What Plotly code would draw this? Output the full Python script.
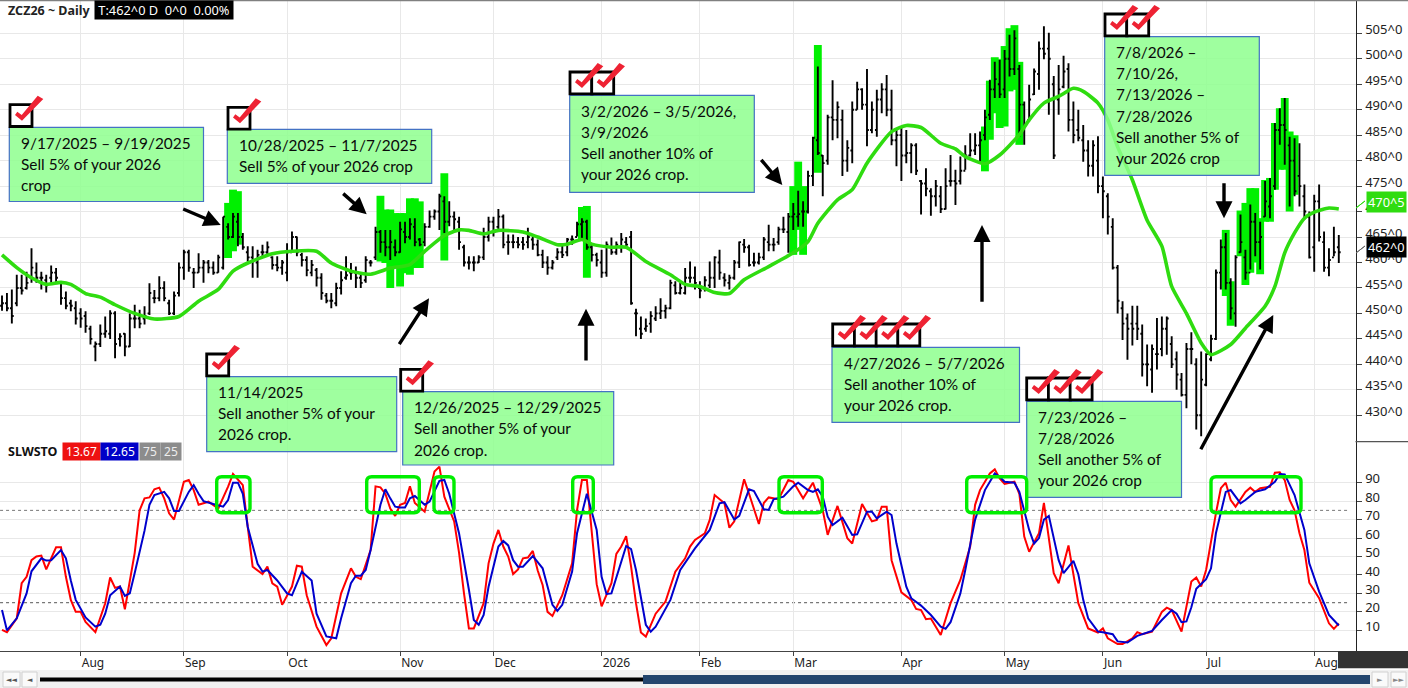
import plotly.graph_objects as go

W = 1408
H = 688

# daily bars (first bar = mid July 2025)
highs = [453.5,454,454.7,457.6,457.6,458.2,462.8,460,458.2,457.6,459.4,458.9,456.3,454.3,452.7,452.4,451,450.4,447.6,444.5,
         447.8,449.4,450.6,450.4,446.1,446.1,450,451.7,450.7,451.4,455.9,454.6,457.3,456.3,452.7,454.3,460,462.5,462.5,458.9,
         461.8,460.5,460.5,460.2,461.5,469,467.7,469.7,469.7,465.8,463.2,463.2,462.5,463.5,464.1,461.2,461.2,460.5,463.8,466.1,
         465.1,461.9,461.2,460.5,458.9,457.9,454,454,456,458.3,461.2,459.9,459.2,458,461.2,460.5,467,466.4,466.4,466.4,
         464.5,468,468,468.7,468.7,464.8,467.7,470.2,470.4,473.5,473,472,470,469,463.5,461.2,461.2,461.4,466.8,469,
         469,470.5,469.4,465.5,465.5,465,465,466.8,465,464.5,462.5,461.2,460.5,462.8,463.8,464.8,465.3,468,468.7,468.4,
         463.5,461.9,462.5,464.1,464.9,464.1,465.8,465,466.2,450.9,449.4,449,450.4,451.4,453,451.7,456.6,456.3,456,458.9,
         460.2,459.2,456.3,457.3,460.2,461.2,462.5,457.9,457.6,460.5,464.1,464.6,463.5,461.9,461.9,465,467.4,464.8,467,469,
         469.7,471.7,474.1,472,478,484.7,498.5,481.1,489,495.8,491.6,490,484,491.6,495.5,494.2,498,491.6,493.9,495.2,
         496.8,493.9,486,486.7,486,483.4,483.4,476.2,478.5,474.6,476.2,475,478.5,481.1,478.2,480.8,483,485.4,485.4,485.7,
         490,495.9,499.4,499.8,501.7,504.7,505.6,498.8,491.6,494.9,498.1,503.4,506.4,505.1,496.6,498.8,500.6,499.1,491.6,490,
         487,484,484,484.8,476.9,473.6,468.7,459.5,452.4,450,451.5,451.5,447.8,443.9,443.9,449.1,449.4,449.4,445.5,442.5,
         438.3,444.2,446.3,441.2,442.5,442.2,445.8,458.6,464.5,465.8,456.9,461.4,469.4,462.5,471.4,469.7,468,476,476.6,487.4,
         490.3,492.3,484.7,484.4,483.4,475.3,470,473.3,475.3,466.1,462.8,467,465.4]
lows = [450.5,450.4,448,451.4,453.7,454.7,456,456,454.7,454.1,456,456,451.7,450.8,450.4,447.8,447.2,446.2,443.9,440.6,
        443.4,445.2,445,441.2,443.5,441.6,443.4,447.1,447.1,447.8,449.7,452,452.4,452.4,449.7,449.7,453.3,456.6,458.2,455,
        458,456,457.9,457.6,458,458.6,464.5,464.8,463.2,462.5,460.2,457,457,461.2,461.5,458.6,458.3,457.6,456.3,461.9,
        461.2,459.2,457.3,457.3,455.3,452.7,452,451,451.4,453.7,456.6,456.6,455,455,456,459.2,460.5,461.9,461.2,460.5,
        461.2,461.9,463.8,464.5,463.2,463.2,463.2,466.8,468.4,466.4,465.8,467.1,466.4,462.5,459.2,458.6,458.3,459.9,460.5,464.1,
        465.1,466.4,462.8,461.5,462.8,462.8,462.5,462.8,462.5,461.2,458.9,457.6,458.6,460.5,460.9,461.2,463.5,465.1,464.5,462.5,
        460.2,459.2,457,457.2,461.5,461.5,461.9,462.8,451.7,445.5,445,446.4,446.2,448.5,448.9,449,450.8,453.7,453.7,453.7,
        456,454.7,453,454.3,455,455,456.6,455.3,454.7,456.6,458.9,461.9,459.2,459.2,459.6,460.5,462.2,462.2,463.5,465.8,
        461.9,466.4,467,467,469.6,475,481.1,473,479.2,484,484.4,477,477.8,479.5,490,490,482.8,485.4,484.7,489.3,
        488.7,483,478.9,476,479.5,477.5,477.2,469.4,473,469.2,471,469.7,470.4,474.9,471.3,475.3,478.2,480.8,481.1,479.5,
        484,488,492.3,492.3,492.3,496.5,496.8,484.7,483.1,487.7,492.9,493.9,499.9,489,480.3,489,494.2,485.7,483.4,483.8,
        479.8,476.9,476.9,473.6,468.7,465.5,458.6,450,444.8,440.9,443.7,444.8,437.6,435.7,434.4,439,441.6,441.9,439.3,435,
        433.7,431.4,440,427.2,425.9,435.7,440.6,444.8,454.7,454.7,448.8,447.4,461.9,456.6,458.6,461.2,458.6,469,468.7,474.3,
        483.1,479.2,471,473,471,468.4,460.8,458.2,464.1,458.2,457.3,461.2,459.9]
opens = [451.5,452,451,452,455,455,457,458,457,456.5,457,458,456,453,452,451,450,449.5,447,443.5,
         444,446,446,450,445,446,443.5,449,449,449,450,453,453,455,452,450,454,459,462,458,
         458,459,460,459,458,459,467,465,468,465,462,461,460,462,462,461,459.5,459,458,462,
         465,461.5,460.5,458,458.5,457,453.5,452.5,452,455,457,458,458,457,456.5,460,461,466,464,463,
         463,462,466,465,467,464.5,464,467,469,470,472,468,469,468,463,460,460,460,461,465,
         468,467,469,464,464,464,464,464,464.5,463.5,461.5,460,459,461,462,462,464.5,465,467.5,468,
         463,461.5,460,458,463,462,463,464,465,450,447,447,448,449,450,450.5,451,455.5,454,454,
         457,457,455,455,455.5,457,460,457,456,457,460,463.5,463,460,460,461,464,463.5,464,466.5,
         466,469,469,470,470,477,484,481,480,488.5,488,488,480,482,490,494,491,486,486,492,
         494,490,484,485,481,481.5,483,476,475.5,474,473,473,470.5,476,476,476,478,481,482,483,
         485,489,494,495,494,500,498,498,491,488,493,497,502,502,495,492,494.5,498,488,486,
         484,482,479,480,475,473,467,459,451,449,448,448,446,440,439,442,443,447,444,441,
         437,434,443,440,430,436,441,445,458,463,456,450,462,461,458,468,464,469,471,475,
         486,487,483,480,477,473,469,463,472,464,459,461,463]
closes = [452,451,449.5,455,454.5,456,459,457,457,455.5,458,457,453,451.5,451.5,449,449,447.5,445,444,
          446,446.5,450,444,445.5,443.5,449,449,448,449.5,454,453,455,453,450,453.5,459,462,459,458,
          459,460,459,458,461,469,465,469,465,463,461,460.5,461.5,462,463,459.5,459,460,462,465,
          462,460.5,458.5,459.5,457,454,452.5,452.5,455,456.5,457.5,458,457,456,460.5,460,466,464,463,464,
          462,466.5,465,467.5,464,463.5,467,469,470,473,468,469,468.5,464,460,460,460,461,465,468,
          466,469,463.5,464,464,463.5,463.5,465,463.5,461.5,460,459,460,462,461.5,464.5,464.5,467.5,468,463,
          461.5,460.5,458,463.5,462,463.5,464.5,463.5,452,450,446,447.5,449.5,450,450.5,451,456,454,455,457,
          457,456,454.5,456.5,457,461,458,456.5,457,460,464,463,459.5,460,461,464.5,463.5,463.5,466.5,466.5,
          469,469.5,469.5,470,477,484.5,481.5,479.5,488.5,488,490.5,480,482.5,490,494,491,486,490,492,494,
          490,484,485,481,481.5,483,478,475.5,474.5,473,475,470.5,475,476,475.5,478,481,482,483,484,
          488.5,494,496,493,500,498,504,491,487,492,497.5,502,501,500,481,494,497.5,488,485,484.5,
          482,479,483,475,474,469,459,452.5,448,447,447,447,440,440,443,442,447,449,440,438,
          434,443,443,430,437,442,445,458,463,456,451,461,464,458,468,464,465,472,473,486,
          487,486,480,474,475,470,461,472,465,459,460.5,462,462]

# bars painted green by the signal
hl_idx = [46,47,48,77,78,79,80,81,82,83,84,85,90,118,119,161,162,163,166,200,201,202,203,204,205,206,207,
          249,250,252,253,254,255,256,257,258,259,260,261,262,263]
hl_high = [471.7,474.3,474,473.1,470.4,470.4,469.7,469.7,469.7,472.6,472.6,472,477.5,470.9,471.1,475,479.8,475,502.7,
           486.7,495.7,500.3,499.9,502.5,506,506.6,499.4,
           466.4,456.3,470.2,471.7,474.6,474.6,468.7,476.2,476.6,487.4,490.3,492.3,485.7,485]
hl_low = [460.9,462.2,463.5,460.2,459.9,455,459.2,455.3,457.9,457.6,458.9,458.9,460.4,464.4,457,461.5,466.4,461.5,477.6,
          477.9,484.1,489.3,486.4,486.7,493.6,493.9,483.1,
          453.4,447.6,461.2,455.6,458,460,457.7,468,468,474.3,478.2,478.2,470,473.3]

# moving average
ma_idx = [0,3,6,9,12,14,17,20,23,27,31,36,40,44,47,50,55,59,64,67,71,75,79,83,86,90,93,95,98,101,106,109,113,115,118,120,
          124,127,131,136,139,142,145,148,151,156,161,164,166,170,173,176,181,184,187,191,194,196,200,203,207,209,212,215,
          218,220,223,225,227,230,233,236,238,241,244,246,250,253,257,259,261,263,265,267,270,272]
ma_val = [461.5,459,457,455.7,456.1,455.7,453.9,453.2,451.7,450,448.9,449.4,452.4,454.7,458.3,459.9,461.7,462.2,462.2,459.9,
          458.3,457.7,458.9,459.6,462.2,465.3,466.4,466.3,465.6,466.3,466,465,463.5,463.6,464.5,463.6,463,463,460.2,457.6,
          455.7,455.3,454.1,453.9,456.6,459.2,461.9,464.1,467.7,472.3,474.3,479.5,485.7,486.9,486.5,483.4,482.3,480.8,479.4,
          481.1,485.1,488,491.3,492.6,494.2,493.6,491.3,488,482.7,476.2,468.3,463.2,455.3,450,444.2,441.9,443.9,447.1,451.4,
          455.3,461.9,465.8,468.7,469.9,470.7,470.5]

# slow stochastic
fast_idx = [0,1,3,4,5,6,7,8,9,11,12,13,14,15,16,17,19,21,22,23,24,25,27,28,29,30,31,32,33,34,35,37,38,39,40,42,44,46,47,49,
            50,51,53,54,55,56,57,59,60,61,62,64,66,67,69,71,72,73,75,76,77,78,79,80,81,82,83,84,86,88,89,90,92,93,94,95,
            96,98,99,100,101,102,103,104,105,106,107,108,109,110,111,112,114,116,117,118,119,120,121,122,124,125,126,127,128,129,130,131,133,135,137,139,140,141,143,144,145,147,148,149,151,152,154,155,156,158,160,161,163,165,167,168,170,172,173,175,177,178,179,180,181,183,185,186,187,188,189,191,
            193,195,197,198,199,201,202,203,204,206,207,208,209,211,212,214,215,217,219,221,223,224,225,227,228,230,231,232,234,236,237,238,240,242,243,244,245,247,248,249,250,251,253,254,255,256,258,259,260,261,262,263,264,265,266,268,270,271,272]
fast_val = [10.2,9,16.5,35.5,39,48,50,50.5,43,55,55,39,26.5,20,20,14.5,9,24.7,38.6,33,33.7,21.4,52,75,81.5,82,86.4,87.3,81.5,73.4,70,90.5,91.4,86,78,79.7,76,87.8,94.7,88.7,
            66,44.5,40.5,44.5,35.5,33.7,23.8,33.7,45,44.5,29,12,2,5.7,30,43.6,39,37.7,53.5,88,87.5,84,76,72,78,79,88,79,74.3,96,98.7,82.4,69,52,30,11,
            11,24.7,46.3,57,64.4,55.4,50,40.5,43,49,49.4,53,42.4,34.6,20,17.8,29,46.3,75,91.4,91.4,64.4,35,23,35.5,51.4,55.4,61,44.5,24.7,8.8,6.6,19,25.6,41.8,49,55.4,59,62.6,69.8,83.3,78.8,65.6,69,91.8,84,67.6,79,82,81,91.4,90.5,81.5,90,75,61.7,77.4,59.9,57,78.4,69,69.8,77,77,48,30.6,26.5,21.6,21,16,16.4,7.5,
            24.7,37.3,55.4,78,86,95,97.2,92.3,89.3,90.5,84,60.8,52.6,62.6,79,41,35.5,56,24.7,11,8.8,11.1,5.7,2.6,2.6,5.7,9,7.9,9.3,20,22.3,21,9.3,36.4,38.6,33.7,42.7,73.4,87,90,80.6,77,85,87.3,85,87,87.8,95.4,95.6,91.4,80.6,75,62.6,53.5,35.8,27.4,13.8,10.8,13.67]
slow_idx = [0,1,3,5,6,8,9,10,12,13,14,15,17,19,20,21,22,24,25,26,27,29,30,31,33,34,35,36,38,39,40,41,43,45,46,47,48,49,50,52,53,54,56,58,59,60,61,63,64,66,68,69,71,72,73,74,75,77,78,79,80,81,82,83,84,86,87,89,90,91,93,95,
            96,97,98,99,101,102,103,104,105,106,108,110,112,113,114,116,117,119,121,122,123,124,126,127,128,129,131,132,133,136,138,141,144,146,147,149,150,152,153,155,156,157,159,161,162,164,165,166,167,168,169,171,173,174,176,177,178,180,181,182,184,185,187,189,191,
            192,193,195,196,198,200,202,203,204,206,207,209,210,211,212,213,214,215,216,218,219,220,221,223,224,226,227,229,231,234,236,238,239,240,241,242,243,245,246,247,249,250,252,253,255,257,259,260,261,263,265,266,268,270,272]
slow_val = [21,10,16.5,30,42,49,47.8,48,53.5,49,37,26.5,17,12,13,19,29,33.7,28.6,30,41,64,78,83.3,85,81.5,74.7,74.7,85,88.7,84,80,78.4,77,80.6,90,90,84,66,46,41.8,42.7,37,30,29,35.5,41.8,37,19,6.7,5.7,16.5,35.5,39.6,39.6,42.7,53.5,78,86.4,81.5,77,76.5,76.6,81.5,82.8,78,79.7,91,91.5,84,62.5,32,
            15.6,13,18.3,33.6,55.4,58.4,56,48,44.5,44.5,50.3,43.6,23.8,20.5,23.8,41.8,62.6,84,64.4,39,29.7,30,48,55.7,54,42.7,13,9.3,12,26.5,42.7,54.4,64.4,78.8,79.4,70,72,86.4,85.5,75.6,75.2,81,82.4,88,90,86,85,86.4,82.4,71.6,67,71,61.7,62,74.3,74.3,70.7,74.3,72.5,57,33.6,27.4,23.4,18.3,12,
            10.8,14.4,30,42.7,70,86,95,93.2,90.5,90,85,64.4,57,60,70,72,60.8,48,41,47.6,40.4,26.5,16.5,9.3,9,7.9,4,3.4,7,9.7,15.6,21,19,14.4,14.8,22.5,32.5,37.7,43.6,62.6,85,86,78.8,80.6,85,86.4,90.5,94.7,94.5,83.3,64.4,46.3,31,18.3,12.65]

# axis labels
price_ticks = [430,435,440,445,450,455,460,465,470,475,480,485,490,495,500,505]
stoch_ticks = [10,20,30,40,50,60,70,80,90]
month_idx = [16,37,58,81,100,122,142,161,183,204,224,245,267]
month_labels = ["Aug","Sep","Oct","Nov","Dec","2026","Feb","Mar","Apr","May","Jun","Jul","Aug"]

# (left, top, right, bottom, text) in page pixels
notes = [
    (9.3,127.3,203.5,201.5,"9/17/2025 – 9/19/2025<br>Sell 5% of your 2026<br>crop"),
    (227.3,129.3,431.7,183.3,"10/28/2025 – 11/7/2025<br>Sell 5% of your 2026 crop"),
    (569.7,95.3,754.3,192.3,"3/2/2026 – 3/5/2026,<br>3/9/2026<br>Sell another 10% of<br>your 2026 crop."),
    (206.7,376.7,396.7,451.7,"11/14/2025<br>Sell another 5% of your<br>2026 crop."),
    (402.7,391.7,613.7,465,"12/26/2025 – 12/29/2025<br>Sell another 5% of your<br>2026 crop."),
    (832,347.3,1019.5,422.3,"4/27/2026 – 5/7/2026<br>Sell another 10% of<br>your 2026 crop."),
    (1026.7,401.3,1181.5,497.3,"7/23/2026 –<br>7/28/2026<br>Sell another 5% of<br>your 2026 crop"),
    (1104.7,36.7,1259.3,175.3,"7/8/2026 –<br>7/10/26,<br>7/13/2026 –<br>7/28/2026<br>Sell another 5% of<br>your 2026 crop"),
]
checks = [(10,104.7,1),(228,107.3,1),(570,72,2),(206.7,354,1),(400.7,369.3,1),(832.7,324,4),(1026.7,378,3),(1105,14,2)]
arrows = [
    (181.7,208.3,220.7,225),(341.7,192.3,366.7,214.3),(398.3,345.7,429,298.3),(586,362,586,308.7),
    (760,158.3,782.3,185),(982,303.3,982,225),(1224,181.7,1224,218.3),(1200,450.7,1273.3,315),
]
loops = [(216.7,250),(366.7,419.3),(434,454),(572.7,593.3),(779,822.3),(966.7,1026.7),(1211,1301)]


def px(x):
    return x / W


def py(y):
    return 1 - y / H


def rect(x0, y0, x1, y1, fill, line=None, lw=0):
    return dict(type="rect", xref="paper", yref="paper", x0=px(x0), x1=px(x1), y0=py(y0), y1=py(y1),
                fillcolor=fill, line=dict(color=line, width=lw) if line else dict(width=0))


def page_path(points, fill=None, color=None, lw=0):
    d = "M " + " L ".join(f"{px(a):.5f},{py(b):.5f}" for a, b in points) + " Z"
    return dict(type="path", xref="paper", yref="paper", path=d, fillcolor=fill,
                line=dict(color=color, width=lw) if color else dict(width=0))


def label(x, y, text, color="#111", size=12, bg=None, bold=False, family="Noto Sans", anchor="left", pad=0):
    return dict(xref="paper", yref="paper", x=px(x), y=py(y), text=f"<b>{text}</b>" if bold else text, showarrow=False,
                xanchor=anchor, yanchor="middle", font=dict(family=family, size=size, color=color),
                bgcolor=bg, borderpad=pad)


traces = [
    go.Bar(x=hl_idx, y=[h - l for h, l in zip(hl_high, hl_low)], base=hl_low, width=1.6,
           marker=dict(color="#00f000", line=dict(width=0)), xaxis="x2", yaxis="y2", hoverinfo="skip"),
    go.Ohlc(x=list(range(len(closes))), open=opens, high=highs, low=lows, close=closes, tickwidth=0.38,
            increasing=dict(line=dict(color="black", width=1.9)), decreasing=dict(line=dict(color="black", width=1.9)),
            xaxis="x2", yaxis="y2", hoverinfo="skip"),
    go.Scatter(x=ma_idx, y=ma_val, mode="lines", line=dict(color="#2fdc10", width=3.6, shape="spline", smoothing=0.6),
               xaxis="x2", yaxis="y2", hoverinfo="skip"),
    go.Scatter(x=fast_idx, y=fast_val, mode="lines", line=dict(color="#ff0000", width=2), xaxis="x", yaxis="y", hoverinfo="skip"),
    go.Scatter(x=slow_idx, y=slow_val, mode="lines", line=dict(color="#0000cc", width=2), xaxis="x", yaxis="y", hoverinfo="skip"),
]

fig = go.Figure(traces)

shapes = []
annos = []

# stochastic guide levels
shapes.append(dict(type="line", xref="x", yref="y", x0=-0.4, x1=274.3, y0=75, y1=75, layer="below", line=dict(color="#777", width=1, dash="dot")))
shapes.append(dict(type="line", xref="x", yref="y", x0=-0.4, x1=274.3, y0=25, y1=25, layer="below", line=dict(color="#777", width=1.4, dash="dot")))

# frame pieces around the plot
shapes.append(rect(0, 0, W, 1.2, "#808080"))
shapes.append(rect(1355.5, 441, W, 442.2, "#555"))
shapes.append(rect(1338, 651, W, 668.3, "#333333"))
shapes.append(rect(0, 670, W, H, "#f1f1f1"))
shapes.append(rect(40, 677.5, 643, 681.5, "#000000"))
shapes.append(rect(643, 675, 1370, 684, "#23466e"))
for a, b in [(3, 20), (22, 37), (1372, 1388), (1391, 1406)]:
    shapes.append(rect(a, 672, b, 687, "#fafafa", "#d0d0d0", 1))
shapes.append(page_path([(1356, 208), (1365, 201)], color="#2fdc10", lw=1))
shapes.append(page_path([(1356, 253), (1365, 246)], color="#666", lw=1))

# note boxes, one annotation per line to hold the 21 px pitch
for x0, y0, x1, y1, text in notes:
    shapes.append(rect(x0, y0, x1, y1, "rgba(142,255,142,0.85)", "#4472c4", 1.2))
    for n, line in enumerate(text.split("<br>")):
        annos.append(label(x0 + 10.5, y0 + 15.6 + n * 21.1, line, color="#0a0a0a", size=15.4, family="Lato"))

# tick boxes with the red check
for x0, y0, count in checks:
    for k in range(count):
        left = x0 + k * 21.7
        shapes.append(rect(left, y0, left + 22, y0 + 21.8, "white", "black", 2.8))
    for k in range(count):
        left = x0 + k * 21.7
        mark = [(5, 10.3), (7.3, 7), (11.7, 10.3), (27.7, -9), (33.3, -5.7), (12, 16)]
        shapes.append(page_path([(left + a, y0 + b) for a, b in mark], fill="#ee2233"))

# green loops on the stochastic
for x0, x1 in loops:
    y0, y1, r = 476.7, 512.7, 5
    d = (f"M {px(x0 + r):.5f},{py(y0):.5f} L {px(x1 - r):.5f},{py(y0):.5f} Q {px(x1):.5f},{py(y0):.5f} {px(x1):.5f},{py(y0 + r):.5f} "
         f"L {px(x1):.5f},{py(y1 - r):.5f} Q {px(x1):.5f},{py(y1):.5f} {px(x1 - r):.5f},{py(y1):.5f} "
         f"L {px(x0 + r):.5f},{py(y1):.5f} Q {px(x0):.5f},{py(y1):.5f} {px(x0):.5f},{py(y1 - r):.5f} "
         f"L {px(x0):.5f},{py(y0 + r):.5f} Q {px(x0):.5f},{py(y0):.5f} {px(x0 + r):.5f},{py(y0):.5f} Z")
    shapes.append(dict(type="path", xref="paper", yref="paper", path=d, line=dict(color="#00ee00", width=3.4)))

# black arrows
for x0, y0, x1, y1 in arrows:
    annos.append(dict(xref="paper", yref="paper", x=px(x1), y=py(y1), ax=x0 - x1, ay=y0 - y1, axref="pixel", ayref="pixel",
                      text="", showarrow=True, arrowhead=2, arrowsize=1, arrowwidth=3.4, arrowcolor="black"))

# header and legend tags
annos.append(label(7, 10.5, "ZCZ26 ~ Daily", bold=True, size=12.5, color="#222"))
annos.append(label(94, 10.5, " T:462^0 D  0^0  0.00% ", color="white", bg="black", size=12.8))
annos.append(label(7, 451, "SLWSTO", bold=True, size=12.5, color="#111"))
annos.append(label(62, 451, " 13.67 ", color="white", bg="#ee1111", size=12))
annos.append(label(100, 451, " 12.65 ", color="white", bg="#0000c8", size=12))
annos.append(label(139, 451, " 75 ", color="#eee", bg="#8c8c8c", size=12))
annos.append(label(160, 451, " 25 ", color="#eee", bg="#8c8c8c", size=12))
annos.append(label(1366, 202, "470^5", color="white", bg="#2fdc10", size=12.8, pad=1))
annos.append(label(1366, 246.5, "462^0", color="white", bg="black", size=12.8, pad=1))
annos.append(label(11.5, 679.5, "◄◄", color="#555", size=7, family="DejaVu Sans", anchor="center"))
annos.append(label(29.5, 679.5, "◄", color="#555", size=7, family="DejaVu Sans", anchor="center"))
annos.append(label(1380, 679.5, "►", color="#888", size=7, family="DejaVu Sans", anchor="center"))
annos.append(label(1398.5, 679.5, "►►", color="#888", size=7, family="DejaVu Sans", anchor="center"))

grid = "#e8e8e8"
fig.update_layout(
    width=W, height=H, autosize=False,
    margin=dict(l=0, r=0, t=0, b=0),
    paper_bgcolor="white", plot_bgcolor="white",
    showlegend=False, barmode="overlay", hovermode=False,
    font=dict(family="Noto Sans", size=12, color="#222"),
    shapes=shapes, annotations=annos,
    xaxis=dict(domain=[0, 1355.5 / W], range=[-0.41, 275.4], anchor="y", tickmode="array", tickvals=month_idx, ticktext=month_labels,
               ticks="outside", ticklen=4, tickcolor="#444", showgrid=True, gridcolor=grid, gridwidth=1.4, zeroline=False,
               showline=True, linecolor="#444", linewidth=1.2, ticklabelposition="outside right", rangeslider=dict(visible=False),
               tickfont=dict(family="Noto Sans", size=12)),
    xaxis2=dict(domain=[0, 1355.5 / W], range=[-0.41, 275.4], anchor="y2", matches="x", tickmode="array", tickvals=month_idx,
                showticklabels=False, ticks="", showgrid=True, gridcolor=grid, gridwidth=1.4, zeroline=False, showline=False,
                rangeslider=dict(visible=False)),
    yaxis=dict(domain=[(H - 651) / H, (H - 441.7) / H], range=[-1.2, 112.2], side="right", anchor="x", tickmode="array",
               tickvals=stoch_ticks, ticktext=[str(v) for v in stoch_ticks], ticks="outside", ticklen=5, tickcolor="#444",
               showgrid=True, gridcolor=grid, gridwidth=1.4, zeroline=False, showline=True, linecolor="#222", linewidth=1.2,
               ticklabelshift=-4, ticklabelstandoff=1, tickfont=dict(family="Noto Sans", size=13)),
    yaxis2=dict(domain=[(H - 441.7) / H, 1], range=[424.81, 511.54], side="right", anchor="x2", tickmode="array",
                tickvals=price_ticks, ticktext=[f"{v}^0" for v in price_ticks], ticks="outside", ticklen=5, tickcolor="#444",
                showgrid=True, gridcolor=grid, gridwidth=1.4, zeroline=False, showline=True, linecolor="#222", linewidth=1.2,
                ticklabelshift=-4, ticklabelstandoff=1, tickfont=dict(family="Noto Sans", size=13)),
)

fig.write_html("out.html", config=dict(displayModeBar=False),
               post_script="document.body.style.margin='0';document.body.style.overflow='hidden';")
